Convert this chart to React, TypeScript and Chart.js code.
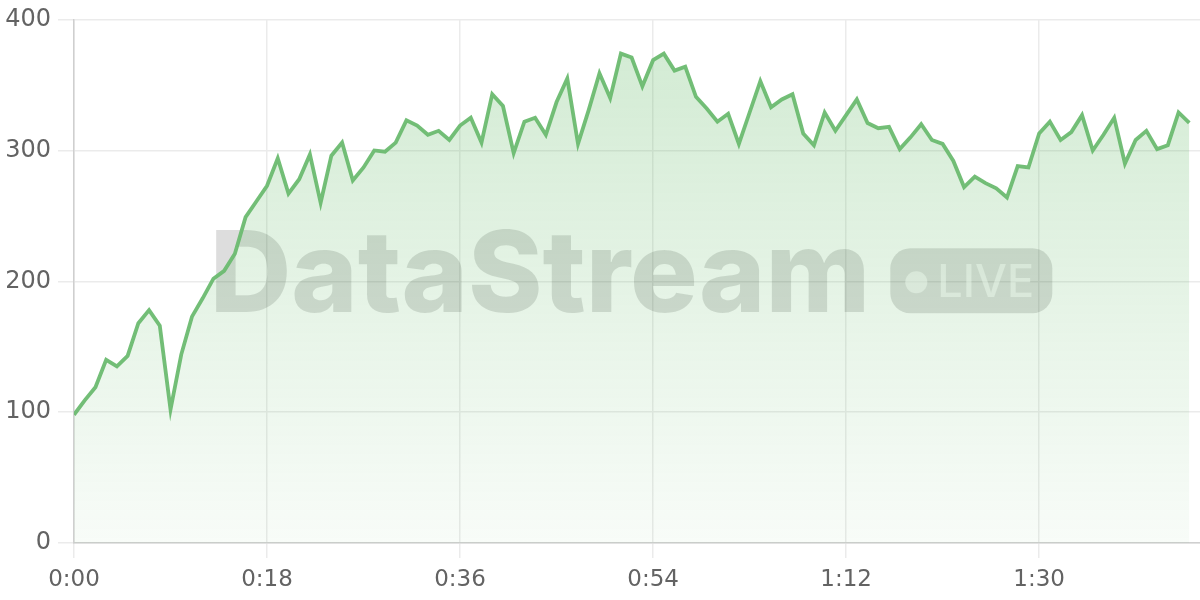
import React, { useEffect, useRef } from 'react';
import { Chart, registerables } from 'chart.js';

Chart.register(...registerables);

// Throughput samples, one per second (0:00 .. 1:44)
const VALUES: number[] = [
  98, 109, 119, 140, 135, 143, 168, 178, 166, 102,
  144, 173, 187, 202, 208, 221, 249, 261, 273, 294,
  267, 278, 297, 260, 296, 306, 277, 287, 300, 299,
  306, 323, 319, 312, 315, 308, 319, 325, 306, 343,
  334, 298, 322, 325, 312, 337, 355, 305, 331, 359,
  340, 374, 371, 349, 369, 374, 361, 364, 341, 332,
  322, 328, 305, 329, 353, 333, 339, 343, 313, 304,
  329, 315, 327, 339, 321, 317, 318, 301, 310, 320,
  308, 305, 292, 272, 280, 275, 271, 264, 288, 287,
  313, 322, 308, 314, 327, 300, 312, 325, 290, 308,
  315, 301, 304, 329, 321,
];
const SECONDS: number[] = VALUES.map((_, i) => i);

const X_MAX = 105;
const X_STEP = 18;
const Y_MIN = 0;
const Y_MAX = 400;
const Y_STEP = 100;

const BRAND = 'DataStream';
const BADGE = 'LIVE';

const fmtTime = (s: number) => {
  const m = Math.floor(s / 60);
  const r = Math.round(s % 60);
  return `${m}:${r < 10 ? '0' : ''}${r}`;
};

const watermark = {
  id: 'watermark',
  beforeDatasetsDraw(chart: any) {
    const { ctx, chartArea } = chart;
    const cx = (chartArea.left + chartArea.right) / 2;
    const cy = (chartArea.top + chartArea.bottom) / 2;
    ctx.save();
    ctx.fillStyle = 'rgba(0,0,0,0.135)';
    ctx.font = '800 113px Inter';
    ctx.textBaseline = 'alphabetic';
    ctx.textAlign = 'left';
    const w = ctx.measureText(BRAND).width;
    const gap = 20;
    const badgeW = 162;
    const badgeH = 65;
    const total = w + gap + badgeW;
    const x0 = cx - total / 2 - 6;
    ctx.fillText(BRAND, x0, cy + 31);
    const bx = x0 + w + gap;
    const by = cy - 33;
    ctx.beginPath();
    (ctx as any).roundRect(bx, by, badgeW, badgeH, 20);
    ctx.fill();
    ctx.fillStyle = 'rgba(255,255,255,0.6)';
    ctx.beginPath();
    ctx.arc(bx + 26, cy + 1, 11, 0, Math.PI * 2);
    ctx.fill();
    ctx.font = '500 45px Inter';
    ctx.fillText(BADGE, bx + 47, cy + 16);
    ctx.restore();
  },
};

export default function App() {
  const ref = useRef<HTMLCanvasElement | null>(null);

  useEffect(() => {
    if (!ref.current) return;
    const chart = new Chart(ref.current, {
      type: 'line',
      data: {
        labels: SECONDS,
        datasets: [
          {
            data: VALUES,
            borderColor: 'rgba(108,186,112,0.95)',
            borderWidth: 3.8,
            pointRadius: 0,
            tension: 0,
            fill: 'origin',
            backgroundColor: (c: any) => {
              const area = c.chart.chartArea;
              if (!area) return 'rgba(76,175,80,0.15)';
              const g = c.chart.ctx.createLinearGradient(0, area.top, 0, area.bottom);
              g.addColorStop(0, 'rgba(76,175,80,0.26)');
              g.addColorStop(1, 'rgba(76,175,80,0.04)');
              return g;
            },
          },
        ],
      },
      options: {
        animation: false,
        responsive: false,
        maintainAspectRatio: false,
        layout: { padding: { left: 0, right: 0, top: 0, bottom: 0 } },
        plugins: {
          legend: { display: false },
          tooltip: { enabled: false },
        },
        scales: {
          x: {
            type: 'linear',
            min: 0,
            max: X_MAX,
            afterFit: (s: any) => { s.height = 57; },
            border: { color: '#cfcfcf', width: 1.5 },
            grid: { color: '#ebebeb', lineWidth: 1.5, tickLength: 15 },
            ticks: {
              stepSize: X_STEP,
              includeBounds: false,
              color: '#636363',
              padding: 8,
              maxRotation: 0,
              font: { family: 'DejaVu Sans', size: 23 },
              callback: (v: any) => fmtTime(Number(v)),
            },
          },
          y: {
            min: Y_MIN,
            max: Y_MAX,
            afterFit: (s: any) => { s.width = 74; },
            border: { color: '#cfcfcf', width: 1.5 },
            grid: { color: '#ebebeb', lineWidth: 1.5, tickLength: 16 },
            ticks: {
              stepSize: Y_STEP,
              color: '#636363',
              padding: 7,
              font: { family: 'DejaVu Sans', size: 24, lineHeight: 1.05 },
            },
          },
        },
      },
      plugins: [watermark],
    });
    return () => chart.destroy();
  }, []);

  return (
    <div style={{ position: 'fixed', left: 0, top: 0, width: 1200, height: 600, background: '#fff' }}>
      <canvas ref={ref} width={1200} height={600} style={{ width: 1200, height: 600 }} />
    </div>
  );
}
